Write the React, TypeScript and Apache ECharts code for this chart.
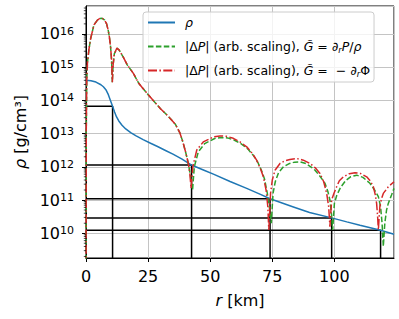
import React, { useEffect, useRef } from 'react';
import * as echarts from 'echarts';

const FONT = 'DejaVu Sans';

// density profile rho(r)  [r in km, rho in g/cm^3]
const R_RHO = [0, 2, 4, 6, 7, 8, 9, 9.8, 10.7, 11.5, 12.3, 13.2, 14.5, 16, 18, 20, 23, 26, 29, 32, 35, 38.5, 42.5, 47.5, 51.3, 58, 64.7, 70, 74.1, 83.5, 90, 98.9, 105, 110.3, 118.6, 124];
const RHO = [4.0e14, 3.9e14, 3.55e14, 2.95e14, 2.57e14, 2.09e14, 1.48e14, 1.0e14, 6.6e13, 4.47e13, 3.16e13, 2.4e13, 1.78e13, 1.38e13, 1.07e13, 8.7e12, 6.6e12, 5.1e12, 4.0e12, 3.1e12, 2.4e12, 1.74e12, 1.13e12, 7.9e11, 6.0e11, 3.6e11, 2.24e11, 1.51e11, 1.09e11, 6.2e10, 4.2e10, 2.9e10, 2.2e10, 1.74e10, 1.23e10, 9.3e9];

// |dP| shared inner part (both curves coincide)
const R_DP_CORE = [0, 0.1, 0.3, 0.6, 1.2, 1.9, 3.2, 4.6, 5.5, 6.5, 7.5, 8.3, 8.9, 9.4, 9.9, 10.3, 10.6, 10.9, 11.4, 12.4, 13.3, 15, 16.6, 19, 21.3, 24.7, 27, 30, 32, 34, 36, 37.8, 39, 40.2, 41.2];
const DP_CORE = [1e8, 1e13, 4e14, 1.4e15, 3.5e15, 7.4e15, 1.86e16, 2.6e16, 2.9e16, 2.95e16, 2.6e16, 2.0e16, 1.32e16, 8.3e15, 4.0e15, 1.6e15, 3.5e14, 1.12e15, 2.5e15, 3.7e15, 3.3e15, 2.0e15, 1.17e15, 6.6e14, 3.2e14, 1.58e14, 1.0e14, 5.6e13, 4.0e13, 2.8e13, 1.9e13, 1.05e13, 5.6e12, 2.6e12, 1.26e12];

// |dP| with G = d_r P / rho (outer part)
const R_DP1_TAIL = [42.0, 42.9, 43.6, 45.2, 47.8, 51.8, 54.5, 57, 59.8, 62.5, 65.2, 67.5, 69.2, 70.7, 71.9, 73, 73.8, 74.6, 75.3, 76.2, 77.5, 79.5, 82, 84, 86.2, 88.5, 90.5, 92.2, 94.2, 96.2, 97.4, 98.2, 98.8, 99.3, 100, 101, 102.5, 104.5, 106.5, 109, 111.5, 114.3, 116.2, 117.7, 118.6, 119.2, 119.7, 120.3, 121, 121.7, 123, 124];
const DP1_TAIL = [5.6e11, 2.0e11, 1.0e12, 2.8e12, 5.0e12, 7.1e12, 7.6e12, 7.4e12, 6.3e12, 4.9e12, 3.4e12, 2.14e12, 1.35e12, 7.6e11, 4.2e11, 1.58e11, 6.3e10, 2.0e10, 1.58e11, 3.55e11, 6.6e11, 1.0e12, 1.26e12, 1.38e12, 1.41e12, 1.26e12, 1.0e12, 7.9e11, 5.2e11, 3.2e11, 1.78e11, 1.0e11, 4.0e10, 1.26e10, 7.9e10, 1.41e11, 2.4e11, 3.8e11, 5.0e11, 5.6e11, 4.8e11, 3.2e11, 2.0e11, 1.26e11, 6.3e10, 2.0e10, 4.0e9, 2.0e10, 5.0e10, 7.9e10, 1.41e11, 2.24e11];

// |dP| with G = -d_r Phi (outer part)
const R_DP2_TAIL = [41.8, 42.3, 43.0, 44.6, 47.2, 51.3, 53.9, 56.5, 59.3, 62, 64.7, 67, 68.7, 70.2, 71.4, 72.5, 73.2, 73.6, 74.3, 75, 76.1, 78.1, 80, 82.1, 84.8, 87.5, 90.2, 92.3, 94.2, 95.7, 96.9, 97.7, 98.2, 98.9, 99.8, 100.9, 102, 103.6, 106, 108.3, 110.5, 113, 114.5, 115.7, 116.5, 117, 117.4, 117.7, 118.3, 119, 119.7, 121.7, 124];
const DP2_TAIL = [6.3e11, 2.24e11, 1.0e12, 3.2e12, 5.6e12, 7.9e12, 8.5e12, 8.3e12, 7.2e12, 5.6e12, 4.0e12, 2.5e12, 1.58e12, 8.9e11, 5.0e11, 2.0e11, 6.3e10, 1.26e10, 1.58e11, 4.0e11, 7.9e11, 1.26e12, 1.51e12, 1.66e12, 1.78e12, 1.58e12, 1.26e12, 9.3e11, 6.3e11, 3.55e11, 1.58e11, 6.3e10, 1.58e10, 1.0e11, 1.58e11, 2.5e11, 3.8e11, 5.0e11, 6.2e11, 6.6e11, 6.3e11, 5.0e11, 3.7e11, 2.5e11, 1.41e11, 7.9e10, 3.2e10, 1.26e10, 6.3e10, 1.12e11, 1.58e11, 2.5e11, 3.55e11];

// black step markers (corner r, corner rho)
const STEP_R = [10.7, 42.5, 74.1, 98.9, 118.6];
const STEP_RHO = [6.6e13, 1.13e12, 1.09e11, 2.9e10, 1.23e10];

const X_MIN = 0;
const X_MAX = 124;
const X_INTERVAL = 25;
const Y_MIN = 1.8e9;
const Y_MAX = 6.9e16;
const MINOR_DECADES = [9, 10, 11, 12, 13, 14, 15, 16];
const MINOR_MANTISSAS = [2, 3, 4, 5, 6, 7, 8, 9];

const LEGEND_LABELS: Record<string, string> = {
  rho: '{i|ρ}',
  dp1: '|Δ{i|P}| (arb. scaling), {i|G̃} = {i|∂}{sub|r}{i|P}/{i|ρ}',
  dp2: '|Δ{i|P}| (arb. scaling), {i|G̃} =  − {i|∂}{sub|r}Φ',
};

const zip = (xs: number[], ys: number[]) => xs.map((x, i) => [x, ys[i]]);

export default function App() {
  const ref = useRef<HTMLDivElement>(null);
  useEffect(() => {
    document.body.style.margin = '0';
    if (!ref.current) return;
    const chart = echarts.init(ref.current, undefined, { renderer: 'svg' });

    const minorTicks: number[][] = [];
    MINOR_DECADES.forEach((e) =>
      MINOR_MANTISSAS.forEach((m) => {
        const v = m * Math.pow(10, e);
        if (v > Y_MIN && v < Y_MAX) minorTicks.push([X_MIN, v]);
      })
    );

    const stepSeries = STEP_R.map((r, i) => ({
      type: 'line',
      name: 'step' + i,
      data: [
        [X_MIN, STEP_RHO[i]],
        [r, STEP_RHO[i]],
        [r, Y_MIN],
      ],
      symbol: 'none',
      lineStyle: { color: '#000', width: 1.5 },
      z: 2,
      silent: true,
    }));

    const option: any = {
      animation: false,
      grid: {
        left: 86,
        right: 5,
        top: 6,
        bottom: 61,
        show: true,
        borderColor: '#000',
        borderWidth: 1,
        backgroundColor: 'transparent',
      },
      legend: {
        data: ['rho', 'dp1', 'dp2'],
        orient: 'vertical',
        left: 143,
        top: 12,
        itemWidth: 27,
        itemHeight: 14,
        itemGap: 9,
        padding: [3, 4, 4, 4],
        backgroundColor: 'rgba(255,255,255,0.8)',
        borderColor: '#cccccc',
        borderWidth: 1,
        borderRadius: 3,
        itemStyle: { opacity: 0 },
        formatter: (name: string) => LEGEND_LABELS[name],
        textStyle: {
          fontFamily: FONT,
          fontSize: 12.5,
          color: '#000',
          lineHeight: 15,
          padding: [0, 0, 0, 5],
          rich: {
            i: { fontFamily: FONT, fontSize: 12.5, fontStyle: 'italic', color: '#000', lineHeight: 15 },
            sub: { fontFamily: FONT, fontSize: 8.5, fontStyle: 'italic', color: '#000', lineHeight: 9, verticalAlign: 'bottom' },
          },
        },
      },
      xAxis: {
        type: 'value',
        min: X_MIN,
        max: X_MAX,
        interval: X_INTERVAL,
        name: '{i|r} [km]',
        nameLocation: 'middle',
        nameGap: 34,
        nameTextStyle: {
          fontFamily: FONT,
          fontSize: 16,
          color: '#000',
          rich: { i: { fontFamily: FONT, fontSize: 16, fontStyle: 'italic', color: '#000' } },
        },
        axisLine: { show: true, lineStyle: { color: '#000', width: 1 } },
        axisTick: { show: true, length: 4, lineStyle: { color: '#000', width: 1 } },
        axisLabel: {
          fontFamily: FONT,
          fontSize: 16,
          color: '#000',
          margin: 10,
          showMaxLabel: false,
        },
        splitLine: { show: true, lineStyle: { color: '#c4c4c4', width: 1 } },
      },
      yAxis: {
        type: 'log',
        logBase: 10,
        min: Y_MIN,
        max: Y_MAX,
        name: '{i|ρ} [g/cm³]',
        nameLocation: 'middle',
        nameGap: 58,
        nameTextStyle: {
          fontFamily: FONT,
          fontSize: 16,
          color: '#000',
          rich: { i: { fontFamily: FONT, fontSize: 16, fontStyle: 'italic', color: '#000' } },
        },
        axisLine: { show: true, lineStyle: { color: '#000', width: 1 } },
        axisTick: { show: true, length: 4, lineStyle: { color: '#000', width: 1 } },
        axisLabel: {
          margin: 12,
          showMinLabel: false,
          showMaxLabel: false,
          formatter: (v: number) => {
            const l = Math.log10(v);
            const e = Math.round(l);
            if (Math.abs(l - e) > 1e-6) return '';
            return '{b|10}{s|' + e + '}';
          },
          rich: {
            b: { fontFamily: FONT, fontSize: 16, lineHeight: 16, color: '#000', verticalAlign: 'bottom' },
            s: { fontFamily: FONT, fontSize: 11, lineHeight: 11, color: '#000', verticalAlign: 'top', padding: [0, 0, 10, 0] },
          },
        },
        splitLine: { show: true, lineStyle: { color: '#c4c4c4', width: 1 } },
      },
      series: [
        ...stepSeries,
        {
          type: 'line',
          name: 'rho',
          data: zip(R_RHO, RHO),
          symbol: 'none',
          lineStyle: { color: '#1f77b4', width: 1.5 },
          itemStyle: { color: '#1f77b4' },
          z: 3,
        },
        {
          type: 'line',
          name: 'dp1',
          data: zip(R_DP_CORE.concat(R_DP1_TAIL), DP_CORE.concat(DP1_TAIL)),
          symbol: 'none',
          lineStyle: { color: '#2ca02c', width: 1.5, type: [5.5, 2.4] },
          itemStyle: { color: '#2ca02c' },
          z: 4,
        },
        {
          type: 'line',
          name: 'dp2',
          data: zip(R_DP_CORE.concat(R_DP2_TAIL), DP_CORE.concat(DP2_TAIL)),
          symbol: 'none',
          lineStyle: { color: '#d62728', width: 1.5, type: [9, 2.4, 1.5, 2.4] },
          itemStyle: { color: '#d62728' },
          z: 5,
        },
        {
          type: 'custom',
          name: 'minorTicks',
          data: minorTicks,
          silent: true,
          z: 10,
          renderItem: (params: any, api: any) => {
            const p = api.coord([api.value(0), api.value(1)]);
            return {
              type: 'line',
              shape: { x1: p[0] - 2.2, y1: p[1], x2: p[0], y2: p[1] },
              style: { stroke: '#000', lineWidth: 0.7 },
            };
          },
        },
      ],
    };
    chart.setOption(option);
    return () => chart.dispose();
  }, []);
  return <div ref={ref} style={{ width: 399, height: 319 }} />;
}
